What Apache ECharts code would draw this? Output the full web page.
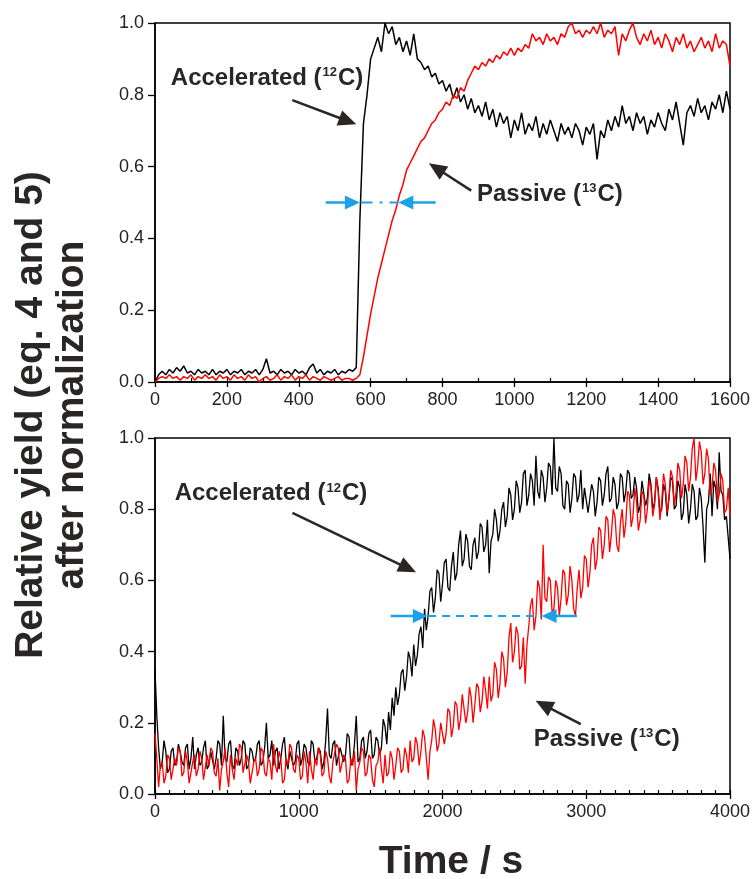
<!DOCTYPE html>
<html><head><meta charset="utf-8">
<script src="https://cdn.jsdelivr.net/npm/echarts@6/dist/echarts.min.js"></script>
<style>html,body{margin:0;padding:0;background:#fff}#c{width:755px;height:879px}</style>
</head><body><div id="c"></div>
<script>
// ---- Data ----
const topTimeStep = 10; // s
const topAccelerated = [
0.00,0.02,0.03,0.02,0.035,0.025,0.04,0.03,0.045,0.025,
0.03,0.02,0.035,0.025,0.03,0.02,0.035,0.02,0.03,0.025,
0.035,0.02,0.03,0.025,0.035,0.02,0.03,0.025,0.035,0.02,
0.035,0.065,0.025,0.03,0.02,0.035,0.025,0.03,0.02,0.035,
0.025,0.03,0.02,0.04,0.05,0.025,0.035,0.02,0.03,0.025,
0.035,0.02,0.03,0.025,0.035,0.03,0.04,0.45,0.72,0.80,
0.90,0.93,0.96,0.92,1.00,0.97,0.99,0.94,0.96,0.92,
0.95,0.91,0.97,0.90,0.89,0.87,0.88,0.85,0.86,0.83,
0.84,0.81,0.83,0.79,0.82,0.78,0.80,0.76,0.79,0.75,
0.77,0.74,0.78,0.73,0.76,0.71,0.75,0.72,0.74,0.68,
0.73,0.70,0.75,0.69,0.72,0.70,0.74,0.68,0.72,0.69,
0.73,0.70,0.67,0.72,0.69,0.71,0.68,0.72,0.70,0.66,
0.71,0.69,0.72,0.62,0.70,0.68,0.73,0.70,0.74,0.71,
0.77,0.72,0.74,0.70,0.75,0.72,0.74,0.69,0.73,0.71,
0.75,0.72,0.70,0.76,0.73,0.78,0.72,0.66,0.75,0.77,
0.74,0.79,0.75,0.77,0.73,0.78,0.76,0.80,0.75,0.81,
0.76];
const topPassive = [
0.0,0.01,0.015,0.01,0.02,0.01,0.015,0.005,0.015,0.01,
0.02,0.005,0.015,0.01,0.02,0.01,0.015,0.005,0.02,0.01,
0.015,0.005,0.02,0.01,0.015,0.005,0.02,0.01,0.015,0.0,
0.01,0.015,0.005,0.01,0.02,0.005,0.015,0.01,0.02,0.005,
0.015,0.01,0.02,0.005,0.015,0.01,0.005,0.015,0.01,0.005,
0.01,0.015,0.005,0.01,0.01,0.005,0.01,0.02,0.07,0.13,
0.19,0.24,0.29,0.33,0.37,0.41,0.45,0.48,0.52,0.55,
0.59,0.61,0.63,0.65,0.67,0.68,0.70,0.72,0.73,0.75,
0.76,0.78,0.77,0.80,0.79,0.82,0.81,0.84,0.86,0.88,
0.87,0.89,0.88,0.90,0.89,0.91,0.90,0.92,0.91,0.93,
0.91,0.93,0.92,0.94,0.93,0.97,0.95,0.96,0.94,0.97,
0.95,0.96,0.94,0.97,0.96,0.99,1.00,0.97,0.98,0.96,
0.98,0.97,0.99,0.97,1.00,0.96,0.98,0.97,0.99,0.91,
0.97,0.95,0.98,1.00,0.96,0.94,0.97,0.95,0.98,0.94,
0.96,0.93,0.97,0.95,0.92,0.96,0.94,0.97,0.93,0.95,
0.92,0.94,0.96,0.93,0.95,0.92,0.97,0.93,0.95,0.94,
0.88];
const bottomTimeStep = 12.5; // s
const bottomAccelerated = [
0.35,0.22,0.13,0.07,0.09,0.15,0.12,0.06,0.07,0.12,0.13,0.08,0.09,0.14,0.12,0.09,
0.08,0.13,0.14,0.07,0.10,0.16,0.07,0.11,0.13,0.08,0.09,0.13,0.15,0.07,0.08,0.12,
0.12,0.07,0.10,0.15,0.14,0.08,0.22,0.10,0.09,0.14,0.15,0.08,0.07,0.13,0.12,0.08,
0.10,0.15,0.14,0.07,0.08,0.13,0.12,0.09,0.10,0.14,0.15,0.08,0.09,0.13,0.20,0.10,
0.11,0.15,0.08,0.12,0.13,0.07,0.10,0.14,0.16,0.09,0.07,0.12,0.12,0.08,0.09,0.14,
0.15,0.08,0.10,0.14,0.13,0.09,0.08,0.15,0.14,0.09,0.10,0.13,0.12,0.07,0.09,0.15,
0.24,0.11,0.10,0.14,0.15,0.08,0.08,0.13,0.13,0.09,0.11,0.17,0.16,0.08,0.09,0.14,
0.22,0.09,0.10,0.15,0.16,0.10,0.12,0.17,0.18,0.10,0.11,0.16,0.15,0.11,0.13,0.21,
0.19,0.14,0.23,0.18,0.27,0.22,0.30,0.25,0.28,0.34,0.35,0.29,0.33,0.40,0.38,0.33,
0.42,0.36,0.39,0.45,0.47,0.41,0.52,0.46,0.50,0.57,0.58,0.51,0.55,0.63,0.62,0.54,
0.59,0.65,0.66,0.58,0.57,0.64,0.68,0.60,0.62,0.70,0.74,0.64,0.66,0.73,0.71,0.64,
0.63,0.70,0.72,0.66,0.68,0.76,0.75,0.68,0.70,0.77,0.62,0.71,0.73,0.80,0.77,0.71,
0.74,0.80,0.82,0.75,0.78,0.86,0.84,0.77,0.80,0.88,0.86,0.79,0.82,0.90,0.91,0.81,
0.84,0.90,0.88,0.81,0.95,0.85,0.83,0.91,0.89,0.82,0.86,0.93,0.92,0.84,1.00,0.86,
0.85,0.92,0.90,0.81,0.80,0.88,0.87,0.79,0.83,0.90,0.89,0.82,0.84,0.91,0.80,0.86,
0.86,0.79,0.79,0.87,0.85,0.78,0.82,0.89,0.88,0.81,0.84,0.90,0.92,0.82,0.83,0.89,
0.87,0.80,0.82,0.90,0.89,0.82,0.85,0.91,0.90,0.83,0.84,0.89,0.86,0.79,0.81,0.88,
0.88,0.81,0.83,0.90,0.87,0.80,0.82,0.89,0.86,0.79,0.80,0.87,0.85,0.78,0.83,0.89,
0.88,0.80,0.81,0.88,0.86,0.77,0.79,0.87,0.84,0.76,0.80,0.87,0.85,0.77,0.78,0.86,
0.83,0.75,0.65,0.80,0.82,0.90,0.78,0.88,0.86,0.80,0.96,0.85,0.84,0.77,0.78,0.72,
0.66];
const bottomPassive = [
0.17,0.10,0.02,0.08,0.09,0.03,0.05,0.11,0.10,0.04,0.04,0.10,0.08,0.13,0.12,0.05,
0.06,0.12,0.09,0.03,0.03,0.09,0.11,0.05,0.07,0.12,0.10,0.04,0.04,0.11,0.08,0.13,
0.12,0.06,0.05,0.10,0.01,0.07,0.09,0.13,0.06,0.02,0.11,0.07,0.04,0.10,0.08,0.14,
0.13,0.06,0.06,0.11,0.09,0.03,0.03,0.09,0.10,0.05,0.07,0.13,0.12,0.06,0.05,0.10,
0.09,0.04,0.14,0.08,0.06,0.12,0.10,0.03,0.04,0.10,0.08,0.14,0.13,0.07,0.06,0.11,
0.10,0.04,0.05,0.12,0.09,0.03,0.12,0.07,0.04,0.10,0.08,0.13,0.11,0.05,0.06,0.12,
0.10,0.05,0.03,0.09,0.09,0.14,0.13,0.06,0.06,0.11,0.10,0.03,0.04,0.10,0.08,0.12,
0.01,0.07,0.09,0.13,0.12,0.05,0.06,0.11,0.10,0.04,0.02,0.08,0.09,0.13,0.07,0.03,
0.11,0.05,0.06,0.12,0.10,0.04,0.08,0.13,0.12,0.06,0.07,0.13,0.11,0.06,0.15,0.09,
0.10,0.16,0.14,0.08,0.12,0.18,0.16,0.10,0.04,0.12,0.15,0.21,0.18,0.12,0.14,0.20,
0.20,0.14,0.17,0.24,0.23,0.16,0.19,0.26,0.25,0.18,0.21,0.28,0.28,0.20,0.23,0.30,
0.27,0.20,0.25,0.31,0.30,0.23,0.26,0.33,0.29,0.24,0.33,0.26,0.28,0.37,0.35,0.27,
0.31,0.40,0.38,0.30,0.34,0.44,0.48,0.37,0.40,0.47,0.45,0.35,0.36,0.44,0.31,0.42,
0.47,0.53,0.55,0.46,0.50,0.60,0.58,0.49,0.70,0.55,0.54,0.61,0.60,0.51,0.52,0.60,
0.58,0.50,0.55,0.63,0.62,0.53,0.56,0.64,0.60,0.52,0.50,0.58,0.63,0.55,0.58,0.67,
0.66,0.58,0.62,0.70,0.72,0.63,0.66,0.75,0.74,0.66,0.70,0.78,0.77,0.68,0.73,0.80,
0.78,0.70,0.68,0.76,0.80,0.72,0.76,0.85,0.84,0.75,0.78,0.86,0.82,0.74,0.77,0.85,
0.84,0.76,0.80,0.88,0.86,0.78,0.81,0.89,0.85,0.77,0.82,0.90,0.87,0.79,0.83,0.91,
0.89,0.81,0.85,0.93,0.91,0.83,0.87,0.95,0.93,0.85,0.89,0.97,1.00,0.88,0.92,0.99,
0.96,0.87,0.90,0.97,0.94,0.84,0.86,0.93,0.91,0.82,0.84,0.90,0.88,0.79,0.80,0.86,
0.78];
const topXTicks = {min:0, max:1600, interval:200, minor:100};
const bottomXTicks = {min:0, max:4000, interval:1000, minor:100};
const yTicks = {min:0, max:1, interval:0.2};
const labels = {
  acc: 'Accelerated ({s|12}C)',
  pas: 'Passive ({s|13}C)',
  yTitle: 'Relative yield (eq. 4 and 5)\nafter normalization',
  xTitle: 'Time / s'
};

// ---- Chart ----
const FONT = '"Liberation Sans", Arial, Helvetica, sans-serif';
const TXT = '#2b2626';
const BLUE = '#1ba1e6';
const chart = echarts.init(document.getElementById('c'), null, {renderer:'canvas'});
const toPairs = (vals, step) => vals.map((v, i) => [i * step, v]);

function xAxisCfg(gi, t) {
  return {type:'value', gridIndex:gi, min:t.min, max:t.max, interval:t.interval,
    axisLine:{show:true, onZero:false, lineStyle:{color:'#000', width:1.5}},
    axisTick:{show:true, inside:false, length:5, lineStyle:{color:'#000', width:1.3}},
    minorTick:{show:false},
    axisLabel:{show:true, color:'#222', fontFamily:FONT, fontSize:18, margin:9,
      showMinLabel:true, showMaxLabel:true, formatter:v => String(v)},
    splitLine:{show:false}};
}
function xMinorCfg(gi, t) {
  return {type:'value', gridIndex:gi, min:t.min, max:t.max, interval:t.minor, position:'bottom',
    axisLine:{show:false, onZero:false}, axisLabel:{show:false},
    axisTick:{show:true, inside:true, length:4, lineStyle:{color:'#000', width:1.2}},
    splitLine:{show:false}};
}
function yAxisCfg(gi) {
  return {type:'value', gridIndex:gi, min:yTicks.min, max:yTicks.max, interval:yTicks.interval,
    axisLine:{show:true, onZero:false, lineStyle:{color:'#000', width:1.5}},
    axisTick:{show:true, inside:false, length:7, lineStyle:{color:'#000', width:1.3}},
    axisLabel:{show:true, color:'#222', fontFamily:FONT, fontSize:18, margin:11,
      showMinLabel:true, showMaxLabel:true, formatter:v => v.toFixed(1)},
    splitLine:{show:false}};
}
function lineSeries(gi, data, color, w) {
  return {type:'line', xAxisIndex:gi, yAxisIndex:gi, data, showSymbol:false, symbol:'none',
    lineStyle:{color, width:w}, itemStyle:{color}, animation:false, clip:true, z:color==='#ff0000'?3:2};
}

chart.setOption({
  animation:false,
  backgroundColor:'#fff',
  grid:[
    {left:155, top:23, width:575, height:359, show:true, borderColor:'#000', borderWidth:1.5, containLabel:false},
    {left:155, top:438, width:575, height:356, show:true, borderColor:'#000', borderWidth:1.5, containLabel:false}
  ],
  xAxis:[xAxisCfg(0, topXTicks), xAxisCfg(1, bottomXTicks), xMinorCfg(0, topXTicks), xMinorCfg(1, bottomXTicks)],
  yAxis:[yAxisCfg(0), yAxisCfg(1)],
  series:[
    lineSeries(0, toPairs(topAccelerated, topTimeStep), '#000000', 1.5),
    lineSeries(0, toPairs(topPassive, topTimeStep), '#ff0000', 1.5),
    lineSeries(1, toPairs(bottomAccelerated, bottomTimeStep), '#000000', 1.3),
    lineSeries(1, toPairs(bottomPassive, bottomTimeStep), '#ff0000', 1.3)
  ]
});

const P = (gi, x, y) => chart.convertToPixel({xAxisIndex:gi, yAxisIndex:gi}, [x, y]);
function arrow(p0, p1, color, lw, headLen, headHalf) {
  const dx = p1[0]-p0[0], dy = p1[1]-p0[1], L = Math.hypot(dx, dy);
  const ux = dx/L, uy = dy/L, nx = -uy, ny = ux;
  const bx = p1[0]-ux*headLen, by = p1[1]-uy*headLen;
  return [
    {type:'line', z:10, shape:{x1:p0[0], y1:p0[1], x2:bx+ux, y2:by+uy}, style:{stroke:color, lineWidth:lw}},
    {type:'polygon', z:10, shape:{points:[[p1[0],p1[1]],[bx+nx*headHalf,by+ny*headHalf],[bx-nx*headHalf,by-ny*headHalf]]}, style:{fill:color}}
  ];
}
function dashed(p0, p1, dash) {
  return {type:'line', z:10, shape:{x1:p0[0], y1:p0[1], x2:p1[0], y2:p1[1]}, style:{stroke:BLUE, lineWidth:2.2, lineDash:dash}};
}
function label(p, key) {
  return {type:'text', z:11, x:p[0], y:p[1], style:{text:labels[key], fill:TXT, font:'bold 24px ' + FONT,
    textAlign:'left', textVerticalAlign:'middle',
    rich:{s:{fontSize:13, fontWeight:'bold', fontFamily:FONT, fill:TXT, verticalAlign:'top', padding:[0,1,0,1]}}}};
}
const G = [];
// top panel annotations
G.push(label(P(0, 44, 0.847), 'acc'));
G.push(...arrow(P(0, 382, 0.785), P(0, 560, 0.718), '#2b2626', 2.5, 18, 8));
G.push(label(P(0, 896, 0.523), 'pas'));
G.push(...arrow(P(0, 880, 0.533), P(0, 762, 0.609), '#2b2626', 2.5, 18, 8));
G.push(...arrow(P(0, 475, 0.5), P(0, 570, 0.5), BLUE, 2.5, 15, 7));
G.push(dashed(P(0, 572, 0.5), P(0, 677, 0.5), [12, 7, 3, 7]));
G.push(...arrow(P(0, 781, 0.5), P(0, 677, 0.5), BLUE, 2.5, 15, 7));
// bottom panel annotations
G.push(label(P(1, 137, 0.844), 'acc'));
G.push(...arrow(P(1, 956, 0.79), P(1, 1816, 0.623), '#2b2626', 2.5, 18, 8));
G.push(label(P(1, 2635, 0.154), 'pas'));
G.push(...arrow(P(1, 2962, 0.196), P(1, 2648, 0.262), '#2b2626', 2.5, 18, 8));
G.push(...arrow(P(1, 1638, 0.5), P(1, 1898, 0.5), BLUE, 2.5, 15, 7));
G.push(dashed(P(1, 1900, 0.5), P(1, 2689, 0.5), [8, 6]));
G.push(...arrow(P(1, 2935, 0.5), P(1, 2689, 0.5), BLUE, 2.5, 15, 7));
// axis titles
G.push({type:'text', z:11, x:52, y:415, rotation:Math.PI/2, style:{text:labels.yTitle, fill:TXT,
  font:'bold 39px ' + FONT, textAlign:'center', textVerticalAlign:'middle', lineHeight:41}});
G.push({type:'text', z:11, x:451, y:862, style:{text:labels.xTitle, fill:TXT,
  font:'bold 39px ' + FONT, textAlign:'center', textVerticalAlign:'middle'}});
chart.setOption({graphic:G});
</script></body></html>
